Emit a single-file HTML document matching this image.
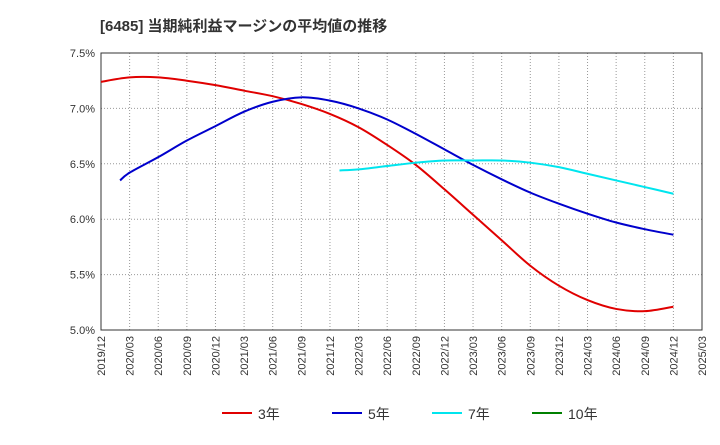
<!DOCTYPE html>
<html><head><meta charset="utf-8"><style>
body{margin:0;background:#fff;font-family:"Liberation Sans","Noto Sans CJK JP",sans-serif}
</style></head><body>
<svg width="720" height="440" xmlns="http://www.w3.org/2000/svg" font-family="Liberation Sans, Noto Sans CJK JP, sans-serif">
<text x="100" y="31" font-size="15" font-weight="bold" fill="#333">[6485]  当期純利益マージンの平均値の推移</text>
<g id="grid"></g><g id="series"></g><g id="legend"></g>
</svg>
<script>
const xLabels=["2019/12","2020/03","2020/06","2020/09","2020/12","2021/03","2021/06","2021/09","2021/12","2022/03","2022/06","2022/09","2022/12","2023/03","2023/06","2023/09","2023/12","2024/03","2024/06","2024/09","2024/12","2025/03"];
const yTicks=[5.0,5.5,6.0,6.5,7.0,7.5];
const s3=[7.24,7.28,7.28,7.25,7.21,7.16,7.11,7.04,6.95,6.83,6.67,6.49,6.27,6.04,5.81,5.58,5.40,5.27,5.19,5.17,5.21];
const s5First=6.35;
const s5FirstMonth="2020/02";
const s5=[null,6.42,6.56,6.71,6.84,6.97,7.06,7.10,7.07,7.00,6.90,6.77,6.63,6.49,6.36,6.24,6.14,6.05,5.97,5.91,5.86];
const s7First=6.44;
const s7FirstMonth="2022/01";
const s7=[null,null,null,null,null,null,null,null,null,6.45,6.48,6.51,6.53,6.53,6.53,6.51,6.47,6.41,6.35,6.29,6.23];
const s10=[];
const NS="http://www.w3.org/2000/svg";
const L=101,R=702,T=53,B=330;
function monthIdx(m){const [y,mo]=m.split('/').map(Number);return ((y-2019)*12+mo-12)/3;}
const xs=i=>L+i*(R-L)/(xLabels.length-1);
const ys=v=>B-(v-5)*(B-T)/2.5;
function mk(t,a,p){const e=document.createElementNS(NS,t);for(const k in a)e.setAttribute(k,a[k]);p.appendChild(e);return e;}
const g=document.getElementById('grid');
xLabels.forEach((l,i)=>{
 const x=xs(i);
 const ln=mk('line',{x1:x,x2:x,y1:T,y2:B,stroke:'#999','stroke-dasharray':'1,2','stroke-width':1},g);
 
 
 const t=mk('text',{x:0,y:0,'font-size':11,fill:'#333','text-anchor':'end',transform:`translate(${x+4},${B+6}) rotate(-90)`},g);
 
 
 t.textContent=l;
});
yTicks.forEach(v=>{
 const y=ys(v);
 const ln=mk('line',{x1:L,x2:R,y1:y,y2:y,stroke:'#999','stroke-dasharray':'1,2','stroke-width':1},g);
 
 
 const t=mk('text',{x:L-6,y:y+4,'font-size':11,fill:'#333','text-anchor':'end'},g);
 
 
 t.textContent=v.toFixed(1)+'%';
});
const fr=mk('rect',{x:L,y:T,width:R-L,height:B-T,fill:'none',stroke:'#333','stroke-width':1},g);


function path(arr,first,firstMonth){
 const p=[];
 if(first!=null)p.push([xs(monthIdx(firstMonth)),ys(first)]);
 arr.forEach((v,i)=>{if(v!=null)p.push([xs(i),ys(v)]);});
 if(p.length<2)return '';
 let d=`M${p[0][0]},${p[0][1]}`;
 for(let i=0;i<p.length-1;i++){
  const p0=p[i-1]||p[i],p1=p[i],p2=p[i+1],p3=p[i+2]||p2;
  d+=` C${p1[0]+(p2[0]-p0[0])/6},${p1[1]+(p2[1]-p0[1])/6} ${p2[0]-(p3[0]-p1[0])/6},${p2[1]-(p3[1]-p1[1])/6} ${p2[0]},${p2[1]}`;
 }
 return d;
}
const sg=document.getElementById('series');
const ser=[[s3,'#e00000','3年','series-3yr',null,null],[s5,'#0000cc','5年','series-5yr',s5First,s5FirstMonth],[s7,'#00e5ee','7年','series-7yr',s7First,s7FirstMonth],[s10,'#008000','10年','series-10yr',null,null]];
ser.forEach(s=>{
 const d=path(s[0],s[4],s[5]);if(!d)return;
 const e=mk('path',{d:d,fill:'none',stroke:s[1],'stroke-width':2},sg);
 
 
});
const lg=document.getElementById('legend');
const lx=[222,332,432,532];
ser.forEach((s,i)=>{
 const e=mk('line',{x1:lx[i],x2:lx[i]+30,y1:413,y2:413,stroke:s[1],'stroke-width':2},lg);
 
 
 const t=mk('text',{x:lx[i]+36,y:419,'font-size':14,fill:'#333'},lg);
 
 
 t.textContent=s[2];
});
</script>
</body></html>
